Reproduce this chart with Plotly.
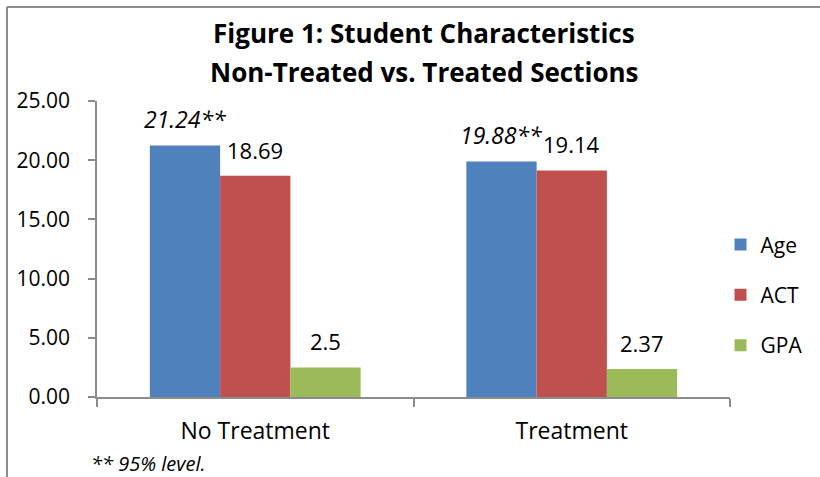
import plotly.graph_objects as go

categories = ["No Treatment", "Treatment"]
series_names = ["Age", "ACT", "GPA"]
age = [21.24, 19.88]
act = [18.69, 19.14]
gpa = [2.5, 2.37]
age_labels = ["21.24**", "19.88**"]
act_labels = ["18.69", "19.14"]
gpa_labels = ["2.5", "2.37"]
colors = ["#4F81BD", "#C0504D", "#9BBB59"]

FONT = "Open Sans"
BARGAP = 0.334

fig = go.Figure()
series = [age, act, gpa]
labels = [age_labels, act_labels, gpa_labels]
italic = [True, False, False]
for j, (name, vals) in enumerate(zip(series_names, series)):
    fig.add_trace(go.Bar(
        x=categories, y=vals, name=name, legendgroup=name,
        marker=dict(color=colors[j], line=dict(width=0)),
        hoverinfo="skip",
    ))

w = (1 - BARGAP) / 3
for j, vals in enumerate(series):
    for i, v in enumerate(vals):
        t = labels[j][i]
        if italic[j]:
            t = "<i>" + t + "</i>"
        fig.add_annotation(
            x=i + (j - 1) * w, y=v, xref="x", yref="y",
            text=t, showarrow=False, yanchor="bottom", xanchor="center",
            yshift=9, font=dict(family=FONT, size=23 if italic[j] else 22, color="#000000"),
        )

# title
fig.add_annotation(x=0.5166, y=1.2297, xref="paper", yref="paper",
                   text="<b>Figure 1: Student Characteristics</b>", showarrow=False,
                   xanchor="center", yanchor="middle",
                   font=dict(family=FONT, size=26, color="#000000"))
fig.add_annotation(x=0.5166, y=1.098, xref="paper", yref="paper",
                   text="<b>Non-Treated vs. Treated Sections</b>", showarrow=False,
                   xanchor="center", yanchor="middle",
                   font=dict(family=FONT, size=26, color="#000000"))
# footnote
fig.add_annotation(x=-0.0126, y=-0.223, xref="paper", yref="paper",
                   text="<i>** 95% level.</i>", showarrow=False,
                   xanchor="left", yanchor="middle",
                   font=dict(family=FONT, size=20, color="#000000"))

# chart frame (top and left visible)
fig.add_shape(type="line", xref="paper", yref="paper", x0=-0.1422, x1=1.2, y0=1.3176, y1=1.3176,
              line=dict(color="#8C8C8C", width=2))
fig.add_shape(type="line", xref="paper", yref="paper", x0=-0.1422, x1=-0.1422, y0=1.3176, y1=-0.3,
              line=dict(color="#8C8C8C", width=2))

fig.update_layout(
    width=820, height=477,
    margin=dict(l=97, r=90, t=101, b=80),
    paper_bgcolor="white", plot_bgcolor="white",
    barmode="group", bargap=BARGAP, bargroupgap=0,
    font=dict(family=FONT, size=22, color="#000000"),
    showlegend=True,
    legend=dict(x=0.985, y=0.345, xanchor="left", yanchor="middle",
                font=dict(family=FONT, size=21, color="#000000"),
                tracegroupgap=20, bgcolor="rgba(0,0,0,0)"),
    xaxis=dict(type="category", showline=True, linecolor="#8C8C8C", linewidth=1.5,
               ticks="outside", tickson="boundaries", ticklen=8, tickcolor="#8C8C8C",
               tickwidth=1.5, showgrid=False, ticklabelstandoff=13,
               tickfont=dict(family=FONT, size=23, color="#000000")),
    yaxis=dict(range=[0, 25], dtick=5, tickformat=".2f", showline=True,
               linecolor="#8C8C8C", linewidth=1.5, ticks="outside", ticklen=7,
               tickcolor="#8C8C8C", tickwidth=1.5, showgrid=False, zeroline=False,
               ticklabelstandoff=14,
               tickfont=dict(family=FONT, size=21, color="#000000")),
)

fig.write_html("out.html", config={"displayModeBar": False},
               post_script="document.body.style.margin='0';document.body.style.overflow='hidden';")
